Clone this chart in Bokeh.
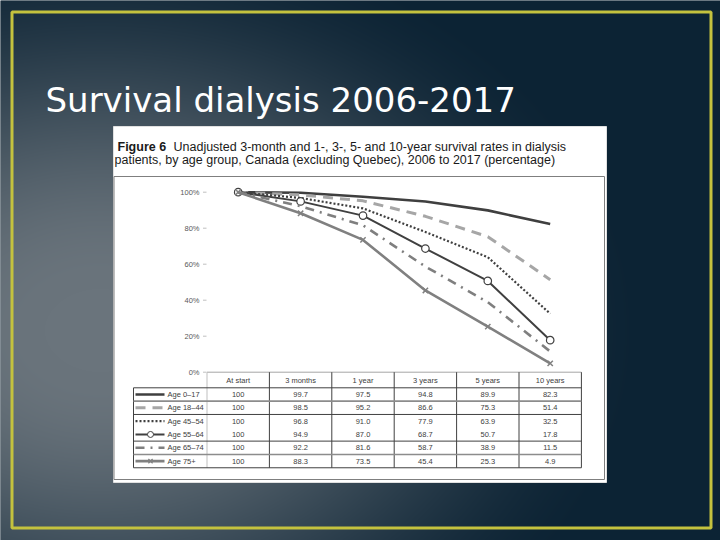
import numpy as np
from bokeh.plotting import figure
from bokeh.models import Range1d
from bokeh.core.properties import value
from bokeh.embed import file_html
from bokeh.resources import INLINE

# ---------------- data ----------------
categories = ["At start", "3 months", "1 year", "3 years", "5 years", "10 years"]
age_groups = ["Age 0–17", "Age 18–44", "Age 45–54", "Age 55–64", "Age 65–74", "Age 75+"]
age_0_17 = [100, 99.7, 97.5, 94.8, 89.9, 82.3]
age_18_44 = [100, 98.5, 95.2, 86.6, 75.3, 51.4]
age_45_54 = [100, 96.8, 91.0, 77.9, 63.9, 32.5]
age_55_64 = [100, 94.9, 87.0, 68.7, 50.7, 17.8]
age_65_74 = [100, 92.2, 81.6, 58.7, 38.9, 11.5]
age_75_up = [100, 88.3, 73.5, 45.4, 25.3, 4.9]
y_ticks = [0, 20, 40, 60, 80, 100]
y_tick_labels = ["0%", "20%", "40%", "60%", "80%", "100%"]
slide_title = "Survival dialysis 2006-2017"
caption_bold = "Figure 6"
caption_line1 = "Unadjusted 3-month and 1-, 3-, 5- and 10-year survival rates in dialysis"
caption_line2 = "patients, by age group, Canada (excluding Quebec), 2006 to 2017 (percentage)"

series = [age_0_17, age_18_44, age_45_54, age_55_64, age_65_74, age_75_up]

# ---------------- styles ----------------
styles = [
    dict(color="#3f3f3f", width=2.6, dash="solid", marker=None),
    dict(color="#a6a6a6", width=3.0, dash="10 7", marker=None),
    dict(color="#3f3f3f", width=2.2, dash="2 2", marker=None),
    dict(color="#404040", width=2.0, dash="solid", marker="circle"),
    dict(color="#7f7f7f", width=2.6, dash="9 6 2 6", marker=None),
    dict(color="#808080", width=2.6, dash="solid", marker="x"),
]
FONT = value("Liberation Sans")
TITLE_FONT = value("DejaVu Sans")

# ---------------- layout constants (screen px of slide) ----------------
W, H = 720, 540


def sy(y):
    return H - y


X0, DX = 237.7, 62.4      # x pixel of first category, spacing
Y0, PPU = 371.7, 1.8      # y pixel of 0 %, pixels per percent

p = figure(width=W, height=H, x_range=Range1d(0, W), y_range=Range1d(0, H),
           output_backend="svg", toolbar_location=None, min_border=0,
           outline_line_color=None)
p.axis.visible = False
p.grid.visible = False
p.background_fill_color = "#1b2e3d"
p.border_fill_color = "#1b2e3d"
p.extra_x_ranges = {"cx": Range1d((0 - X0) / DX, (W - X0) / DX)}
p.extra_y_ranges = {"cy": Range1d((Y0 - H) / PPU, (Y0 - 0) / PPU)}

# ---------------- slide background gradient ----------------
xs = np.arange(W) + 0.5
ys_data = np.arange(H) + 0.5
XX, YY = np.meshgrid(xs, ys_data)
YS = H - YY
d = np.sqrt(((XX - 100) / 560.0) ** 2 + ((YS - 330) / 420.0) ** 2)
s = np.clip((d - 0.1) / 0.9, 0, 1)
s = s * s * (3 - 2 * s)
inner = np.array([106, 116, 124], dtype=float)
outer = np.array([12, 35, 52], dtype=float)
img = np.empty((H, W), dtype=np.uint32)
view = img.view(dtype=np.uint8).reshape((H, W, 4))
for k in range(3):
    view[:, :, k] = (inner[k] * (1 - s) + outer[k] * s).astype(np.uint8)
view[:, :, 3] = 255
p.image_rgba(image=[img], x=0, y=0, dw=W, dh=H)

# yellow border
p.quad(left=11.5, right=710.5, top=sy(11.5), bottom=sy(527.5), fill_color=None,
       line_color="#c4c23e", line_width=3)

# slide title
p.text(x=[45], y=[sy(99)], text=[slide_title], text_font=TITLE_FONT, text_font_size="34px",
       text_color="white", text_baseline="alphabetic", text_align="left")

# ---------------- embedded figure box ----------------
p.quad(left=113, right=606, top=sy(126), bottom=sy(482), fill_color="white",
       line_color="#e0e0e0", line_width=1)
p.quad(left=113.5, right=604, top=sy(176), bottom=sy(479), fill_color=None,
       line_color="#7f7f7f", line_width=1)

p.text(x=[117], y=[sy(146)], text=[caption_bold], text_font=FONT, text_font_size="12.5px",
       text_font_style="bold", text_color="#1a1a1a", text_baseline="alphabetic")
p.text(x=[173], y=[sy(146)], text=[caption_line1], text_font=FONT, text_font_size="12.5px",
       text_color="#1a1a1a", text_baseline="alphabetic")
p.text(x=[114], y=[sy(159)], text=[caption_line2], text_font=FONT, text_font_size="12.5px",
       text_color="#1a1a1a", text_baseline="alphabetic")

# ---------------- chart ----------------
plot_left, plot_right = X0 - DX / 2, X0 + DX * (len(categories) - 0.5)
# y tick labels and tick marks
p.text(x=[199] * len(y_ticks), y=y_ticks, text=y_tick_labels, y_range_name="cy",
       text_font=FONT, text_font_size="7.5px", text_color="#595959",
       text_align="right", text_baseline="middle")
p.segment(x0=[202.5] * len(y_ticks), x1=[206] * len(y_ticks), y0=y_ticks, y1=y_ticks,
          y_range_name="cy", line_color="#bfbfbf", line_width=1)
# x axis line
p.segment(x0=[plot_left], x1=[plot_right], y0=[0], y1=[0], y_range_name="cy",
          line_color="#a6a6a6", line_width=1)

xi = list(range(len(categories)))
for vals, st in zip(series, styles):
    p.line(x=xi, y=vals, x_range_name="cx", y_range_name="cy", line_color=st["color"],
           line_width=st["width"], line_dash=st["dash"], line_join="round")
    if st["marker"] == "circle":
        p.scatter(x=xi, y=vals, x_range_name="cx", y_range_name="cy", marker="circle",
                  size=7.5, fill_color="white", line_color=st["color"], line_width=1.2)
    elif st["marker"] == "x":
        p.scatter(x=xi, y=vals, x_range_name="cx", y_range_name="cy", marker="x",
                  size=7.5, line_color=st["color"], line_width=1.5)

# ---------------- data table ----------------
tbl_left, tbl_right = 133, plot_right
hdr_top, row_top, row_h = Y0, 387.3, 13.33
n_rows = len(age_groups)
tbl_bottom = row_top + row_h * n_rows

# column separators (in category units)
bounds = [i - 0.5 for i in range(len(categories) + 1)]
p.segment(x0=bounds[:1], x1=bounds[:1], y0=[sy(hdr_top)], y1=[sy(tbl_bottom)],
          x_range_name="cx", line_color="#bfbfbf", line_width=1)
p.segment(x0=bounds[1:], x1=bounds[1:], y0=[sy(hdr_top)] * (len(bounds) - 1),
          y1=[sy(tbl_bottom)] * (len(bounds) - 1), x_range_name="cx",
          line_color="#404040", line_width=1)
# outer left border
p.segment(x0=[tbl_left], x1=[tbl_left], y0=[sy(row_top)], y1=[sy(tbl_bottom)],
          line_color="#404040", line_width=1)
# horizontal lines
h_dark = [row_top, row_top + 2 * row_h, row_top + 4 * row_h, tbl_bottom]
h_grey = [row_top + row_h, row_top + 5 * row_h]
p.segment(x0=[tbl_left] * len(h_dark), x1=[tbl_right] * len(h_dark),
          y0=[sy(v) for v in h_dark], y1=[sy(v) for v in h_dark],
          line_color="#404040", line_width=1)
p.segment(x0=[tbl_left] * len(h_grey), x1=[tbl_right] * len(h_grey),
          y0=[sy(v) for v in h_grey], y1=[sy(v) for v in h_grey],
          line_color="#8c8c8c", line_width=1.6)

# header
p.text(x=xi, y=[sy((hdr_top + row_top) / 2)] * len(categories), text=categories,
       x_range_name="cx", text_font=FONT, text_font_size="7.5px", text_color="#404040",
       text_align="center", text_baseline="middle")

# cells
cx_list, cy_list, ct_list = [], [], []
for r, vals in enumerate(series):
    yc = sy(row_top + row_h * (r + 0.5))
    for c, v in enumerate(vals):
        cx_list.append(c)
        cy_list.append(yc)
        ct_list.append(str(int(v)) if v == 100 else f"{v:.1f}")
p.text(x=cx_list, y=cy_list, text=ct_list, x_range_name="cx", text_font=FONT,
       text_font_size="7.5px", text_color="#404040", text_align="center",
       text_baseline="middle")

# legend samples + labels
for r, (name, st) in enumerate(zip(age_groups, styles)):
    yc = sy(row_top + row_h * (r + 0.5))
    p.line(x=[135, 164], y=[yc, yc], line_color=st["color"], line_width=st["width"],
           line_dash=st["dash"])
    if st["marker"] == "circle":
        p.scatter(x=[150], y=[yc], marker="circle", size=6, fill_color="white",
                  line_color=st["color"], line_width=1)
    elif st["marker"] == "x":
        p.scatter(x=[150], y=[yc], marker="x", size=6, line_color=st["color"], line_width=1.3)
    p.text(x=[167], y=[yc], text=[name], text_font=FONT, text_font_size="7.5px",
           text_color="#404040", text_align="left", text_baseline="middle")

open("out.html", "w").write(file_html(p, INLINE))
